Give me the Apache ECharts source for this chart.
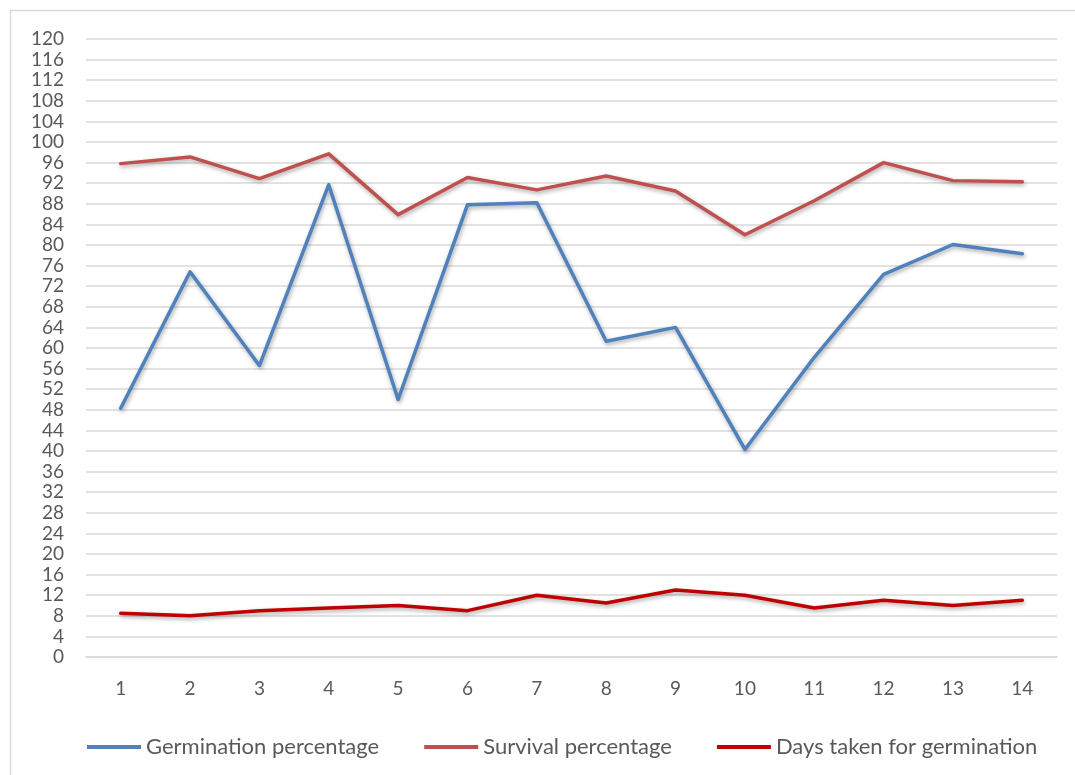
<!DOCTYPE html>
<html>
<head>
<meta charset="utf-8">
<script src="https://cdn.jsdelivr.net/npm/echarts@6/dist/echarts.min.js"></script>
<style>
html,body{margin:0;padding:0;background:#fff;}
#chart{width:1075px;height:775px;}
</style>
</head>
<body>
<div id="chart"></div>
<script>
const categories = ['1','2','3','4','5','6','7','8','9','10','11','12','13','14'];
const germination = [48.3, 74.8, 56.6, 91.7, 50.0, 87.8, 88.2, 61.3, 64.0, 40.3, 58.2, 74.3, 80.1, 78.3];
const survival = [95.8, 97.1, 92.9, 97.7, 85.9, 93.1, 90.7, 93.4, 90.5, 82.0, 88.6, 96.0, 92.5, 92.3];
const days = [8.5, 8.0, 9.0, 9.5, 10.0, 9.0, 12.0, 10.5, 13.0, 12.0, 9.5, 11.0, 10.0, 11.0];
const seriesNames = ['Germination percentage', 'Survival percentage', 'Days taken for germination'];

const chart = echarts.init(document.getElementById('chart'));
const font = 'Lato, "Open Sans", sans-serif';
const shadow = {shadowColor:'rgba(0,0,0,0.35)', shadowBlur:4, shadowOffsetX:1, shadowOffsetY:2};
function mk(name, data, color){
  return {name, type:'line', data, symbol:'none', smooth:false,
    lineStyle:Object.assign({color, width:3.5, cap:'round', join:'round'}, shadow),
    itemStyle:{color}, emphasis:{disabled:true}};
}
chart.setOption({
  animation:false,
  textStyle:{fontFamily:font},
  graphic:[{type:'rect', shape:{x:10.5,y:10.5,width:1100,height:800}, style:{fill:'none', stroke:'#D9D9D9', lineWidth:1.5}, silent:true}],
  grid:{left:86, right:18, top:39, bottom:118, containLabel:false},
  legend:{top:731, left:82, itemWidth:54, itemHeight:4, itemGap:45,
    icon:'rect',
    textStyle:{fontFamily:font, fontSize:22, color:'#595959'},
    data:seriesNames},
  xAxis:{type:'category', data:categories, boundaryGap:true,
    axisLine:{show:true, lineStyle:{color:'#D9D9D9', width:1.5}},
    axisTick:{show:false},
    axisLabel:{color:'#595959', fontSize:19, fontFamily:font, margin:22}},
  yAxis:{type:'value', min:0, max:120, interval:4,
    axisLine:{show:false}, axisTick:{show:false},
    splitLine:{lineStyle:{color:'#D9D9D9', width:1.5}},
    axisLabel:{color:'#595959', fontSize:19, fontFamily:font, margin:22}},
  series:[
    mk(seriesNames[0], germination, '#4F81BD'),
    mk(seriesNames[1], survival, '#C0504D'),
    mk(seriesNames[2], days, '#C00000')
  ]
});
</script>
</body>
</html>
